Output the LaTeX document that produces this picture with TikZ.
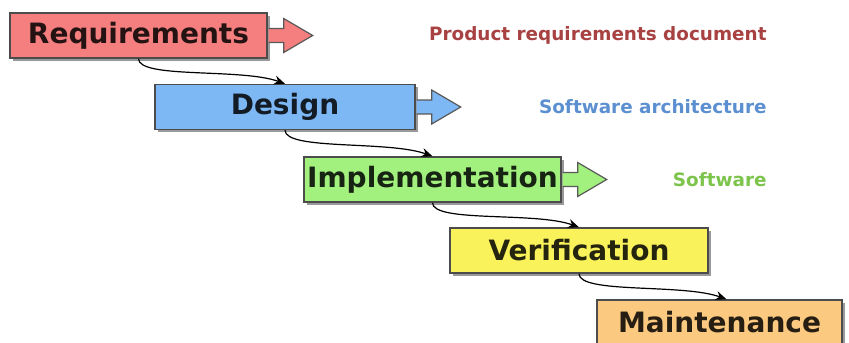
\documentclass[tikz,border=0pt]{standalone}
\usepackage{fontspec}
\setmainfont{DejaVu Sans}
\usetikzlibrary{arrows.meta,shadows}

\definecolor{reqred}{HTML}{F57E7E}
\definecolor{desblue}{HTML}{7DB8F5}
\definecolor{impgreen}{HTML}{A2F07E}
\definecolor{veryellow}{HTML}{FAF25A}
\definecolor{mntorange}{HTML}{FBC97F}
\definecolor{prdtext}{HTML}{A84242}
\definecolor{archtext}{HTML}{5B8FD0}
\definecolor{swtext}{HTML}{7CC44C}

\tikzset{
    pics/fatarrow/.style={code={
        \draw[draw=black!65, fill=#1, line width=0.6pt]
            (0.8,-7) -- (16,-7) -- (16,-17) -- (45,0) -- (16,17) -- (16,7) -- (0.8,7);
    }}
}

\begin{document}
\begin{tikzpicture}[
    x=0.5pt, y=-0.5pt,
    phase/.style={rectangle, draw=black!70, line width=0.7pt, inner sep=1pt,
        minimum height=22.5pt, font=\fontsize{14}{16}\selectfont\bfseries,
        text=#1!15!black, fill=#1,
        drop shadow={shadow xshift=1.3pt, shadow yshift=-1.3pt, opacity=0.4, fill=black}},
    note/.style={anchor=east, inner sep=0pt, font=\fontsize{9.2}{11}\selectfont\bfseries},
    flow/.style={line width=0.6pt, -{Stealth[length=5.5pt, width=4.5pt]}}
]
    \clip (0,0) rectangle (849,342);

    % Phases
    \node[phase=reqred, minimum width=128.5pt] (req) at (138.5,35.5) {Requirements};
    \node[phase=desblue, minimum width=130pt] (des) at (285,107) {Design};
    \node[phase=impgreen, minimum width=128.5pt] (imp) at (432.5,179.5) {Implementation};
    \node[phase=veryellow, minimum width=129pt] (ver) at (579,250.5) {Verification};
    \node[phase=mntorange, minimum width=122.5pt] (mnt) at (719.5,322.5) {Maintenance};

    % Outputs
    \pic at (req.east) {fatarrow=reqred};
    \pic at (des.east) {fatarrow=desblue};
    \pic at (imp.east) {fatarrow=impgreen};

    \node[note, text=prdtext] (prd) at (767,35) {Product requirements document};
    \node[note, text=archtext] (arch) at (767,107) {Software architecture};
    \node[note, text=swtext] (sw) at (767,180) {Software};

    % Flow
    \draw[flow] (req.south) to[out=-90, in=160, out looseness=0.35, in looseness=0.8] (des.north);
    \draw[flow] (des.south) to[out=-90, in=160, out looseness=0.35, in looseness=0.8] (imp.north);
    \draw[flow] (imp.south) to[out=-90, in=160, out looseness=0.35, in looseness=0.8] (ver.north);
    \draw[flow] (ver.south) to[out=-90, in=160, out looseness=0.35, in looseness=0.8] ([xshift=3.5pt]mnt.north);
\end{tikzpicture}
\end{document}
